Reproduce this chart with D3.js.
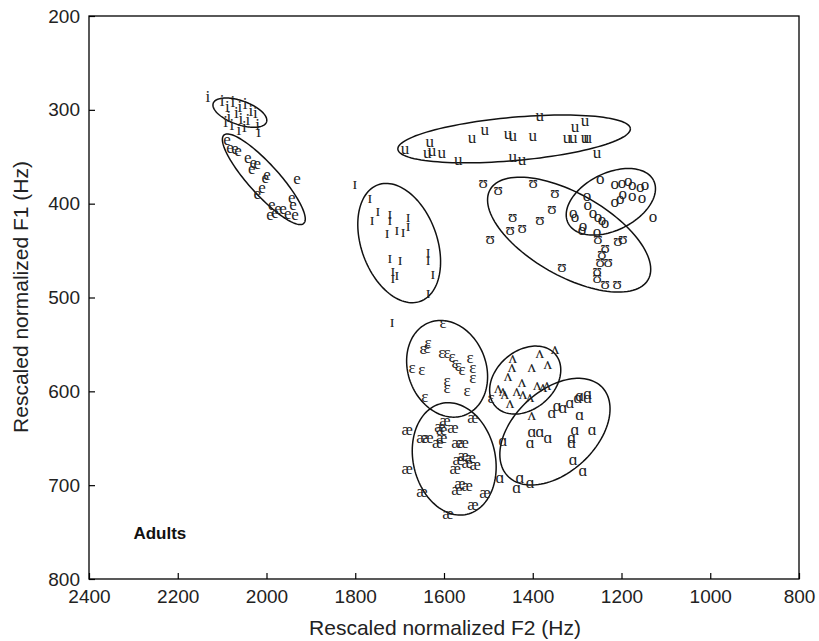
<!DOCTYPE html>
<html>
<head>
<meta charset="utf-8">
<script src="https://cdn.jsdelivr.net/npm/d3@7"></script>
<style>
body { margin: 0; background: #fff; }
</style>
</head>
<body>
<div id="chart"></div>
<script>
// vowel tokens, [F2, F1] in Hz
var iPts = [[2132,286],[2100,290],[2088,296],[2076,291],[2060,296],[2048,293],[2035,301],[2068,303],[2085,307],[2058,309],[2042,310],[2025,303],[2020,316],[2078,316],[2050,318],[2062,321],[2018,323],[2092,312]];
var ePts = [[2089,332],[2071,341],[2082,340],[2064,343],[2042,351],[2030,356],[2033,362],[2021,357],[2003,372],[1999,369],[1931,373],[2010,383],[2021,389],[1943,393],[1940,401],[1988,401],[1974,405],[1963,405],[1981,409],[1992,412],[1936,412],[1952,410]];
var ihPts = [[1801,378],[1767,393],[1749,407],[1762,417],[1722,410],[1722,417],[1728,431],[1706,428],[1692,430],[1681,414],[1681,423],[1722,457],[1699,460],[1715,471],[1706,476],[1715,479],[1636,451],[1636,460],[1625,474],[1636,495],[1717,526]];
var uPts = [[1688,341],[1632,334],[1638,346],[1627,343],[1605,345],[1568,353],[1537,329],[1508,321],[1456,325],[1445,327],[1400,327],[1384,306],[1445,350],[1424,353],[1323,330],[1309,329],[1305,318],[1282,311],[1282,330],[1276,329],[1255,346]];
var uhPts = [[1512,377],[1478,385],[1399,377],[1350,388],[1357,405],[1445,414],[1424,425],[1451,428],[1384,417],[1496,437],[1334,467],[1253,437],[1237,447],[1244,453],[1248,462],[1255,471],[1255,479],[1237,485],[1210,485],[1208,439],[1197,437],[1230,462]];
var oPts = [[1248,373],[1215,378],[1199,377],[1185,375],[1176,380],[1158,382],[1147,380],[1197,389],[1176,391],[1154,393],[1215,398],[1203,394],[1129,414],[1278,391],[1276,401],[1264,409],[1253,414],[1244,417],[1237,420],[1309,409],[1305,414],[1289,428],[1255,430],[1287,423]];
var ehPts = [[1602,527],[1638,553],[1636,548],[1647,554],[1605,559],[1593,559],[1582,563],[1575,569],[1568,572],[1559,577],[1541,564],[1535,575],[1535,585],[1548,599],[1593,588],[1593,596],[1672,575],[1650,577],[1643,606],[1494,607]];
var aePts = [[1598,631],[1609,638],[1605,641],[1580,639],[1605,649],[1614,654],[1571,655],[1557,655],[1683,641],[1650,649],[1636,649],[1557,668],[1541,670],[1568,673],[1548,676],[1530,678],[1575,682],[1683,682],[1564,698],[1548,700],[1571,705],[1508,708],[1650,707],[1535,721],[1591,730],[1535,628]];
var ahPts = [[1350,554],[1384,559],[1366,570],[1445,564],[1447,574],[1402,574],[1424,590],[1456,583],[1390,593],[1377,595],[1368,593],[1478,596],[1467,599],[1436,599],[1422,602],[1406,606],[1451,612],[1463,602],[1402,625]];
var aPts = [[1345,615],[1357,623],[1332,617],[1316,612],[1298,607],[1294,604],[1276,602],[1276,607],[1294,625],[1305,641],[1312,649],[1312,654],[1266,641],[1384,643],[1402,643],[1406,655],[1366,649],[1309,673],[1287,684],[1467,652],[1474,692],[1429,692],[1406,697],[1436,702]];

var vowels = [
  { sym: "i", pts: iPts },
  { sym: "e", pts: ePts },
  { sym: "\u026A", pts: ihPts },
  { sym: "u", pts: uPts },
  { sym: "\u028A", pts: uhPts },
  { sym: "o", pts: oPts },
  { sym: "\u025B", pts: ehPts },
  { sym: "\u00E6", pts: aePts },
  { sym: "\u028C", pts: ahPts },
  { sym: "\u0251", pts: aPts }
];

// ellipses: centre [F2, F1] and two half-axis vectors in Hz
var ellipseCentres = [[2060,303],[2006,374],[1701,442],[1442,331],[1318,433],[1224,398],[1593,576],[1577,672],[1417,588],[1350,643]];
var ellipseMajor = [[-60,10],[-90,47],[-48,62],[-262,-11],[-178,48],[-96,-23],[-42,49],[-29,59],[-67,-28],[-107,-47]];
var ellipseMinor = [[9,12],[25,11],[80,14],[-4,23],[46,38],[-30,27],[81,16],[90,10],[-44,23],[-63,32]];

var xTicks = [2400,2200,2000,1800,1600,1400,1200,1000,800];
var yTicks = [200,300,400,500,600,700,800];

var width = 819, height = 641;

var svg = d3.select("#chart")
    .append("svg")
    .attr("width", width)
    .attr("height", height);

var x = d3.scaleLinear().domain([2400, 800]).range([89, 799]);
var y = d3.scaleLinear().domain([200, 800]).range([16, 579]);

// axes, ticks inside like matlab
var xAxis = svg.append("g")
    .attr("transform", "translate(0,579)")
    .call(d3.axisBottom(x).tickValues(xTicks).tickFormat(d3.format("d"))
        .tickSizeInner(-6).tickSizeOuter(0).tickPadding(11));
var yAxis = svg.append("g")
    .attr("transform", "translate(89,0)")
    .call(d3.axisLeft(y).tickValues(yTicks).tickFormat(d3.format("d"))
        .tickSizeInner(-6).tickSizeOuter(0).tickPadding(9));

[xAxis, yAxis].forEach(function (g) {
    g.select(".domain").remove();
    g.selectAll("line").attr("stroke", "#000").attr("stroke-width", 1.2);
    g.selectAll("text")
        .style("font-family", "'Liberation Sans', Arial, sans-serif")
        .style("font-size", "19px")
        .attr("fill", "#222");
});

svg.append("rect")
    .attr("x", 89).attr("y", 16)
    .attr("width", 710).attr("height", 563)
    .attr("fill", "none")
    .attr("stroke", "#000")
    .attr("stroke-width", 1.3);

// ellipses
var t = d3.range(0, 2 * Math.PI + 0.01, Math.PI / 60);
var ellLine = d3.line()
    .x(function (d) { return x(d[0]); })
    .y(function (d) { return y(d[1]); });

svg.append("g")
    .selectAll("path")
    .data(ellipseCentres)
    .enter()
    .append("path")
    .attr("d", function (c, k) {
        var a = ellipseMajor[k], b = ellipseMinor[k];
        return ellLine(t.map(function (s) {
            return [c[0] + a[0] * Math.cos(s) + b[0] * Math.sin(s),
                    c[1] + a[1] * Math.cos(s) + b[1] * Math.sin(s)];
        }));
    })
    .attr("fill", "none")
    .attr("stroke", "#111")
    .attr("stroke-width", 1.5);

// vowel symbols
vowels.forEach(function (v) {
    svg.append("g")
        .selectAll("text")
        .data(v.pts)
        .enter()
        .append("text")
        .attr("x", function (d) { return x(d[0]); })
        .attr("y", function (d) { return y(d[1]); })
        .attr("text-anchor", "middle")
        .attr("dominant-baseline", "central")
        .style("font-family", "'Liberation Serif', 'DejaVu Serif', serif")
        .style("font-size", "17px")
        .attr("fill", "#222")
        .text(v.sym);
});

svg.append("text")
    .attr("x", x(2300)).attr("y", y(752))
    .attr("dominant-baseline", "central")
    .style("font-family", "'Liberation Sans', Arial, sans-serif")
    .style("font-size", "17px")
    .style("font-weight", "bold")
    .attr("fill", "#111")
    .text("Adults");

svg.append("text")
    .attr("x", 445).attr("y", 627)
    .attr("text-anchor", "middle")
    .attr("dominant-baseline", "central")
    .style("font-family", "'Liberation Sans', Arial, sans-serif")
    .style("font-size", "21px")
    .attr("fill", "#222")
    .text("Rescaled normalized F2 (Hz)");

svg.append("text")
    .attr("transform", "translate(20,297) rotate(-90)")
    .attr("text-anchor", "middle")
    .attr("dominant-baseline", "central")
    .style("font-family", "'Liberation Sans', Arial, sans-serif")
    .style("font-size", "21px")
    .attr("fill", "#222")
    .text("Rescaled normalized F1 (Hz)");
</script>
</body>
</html>
